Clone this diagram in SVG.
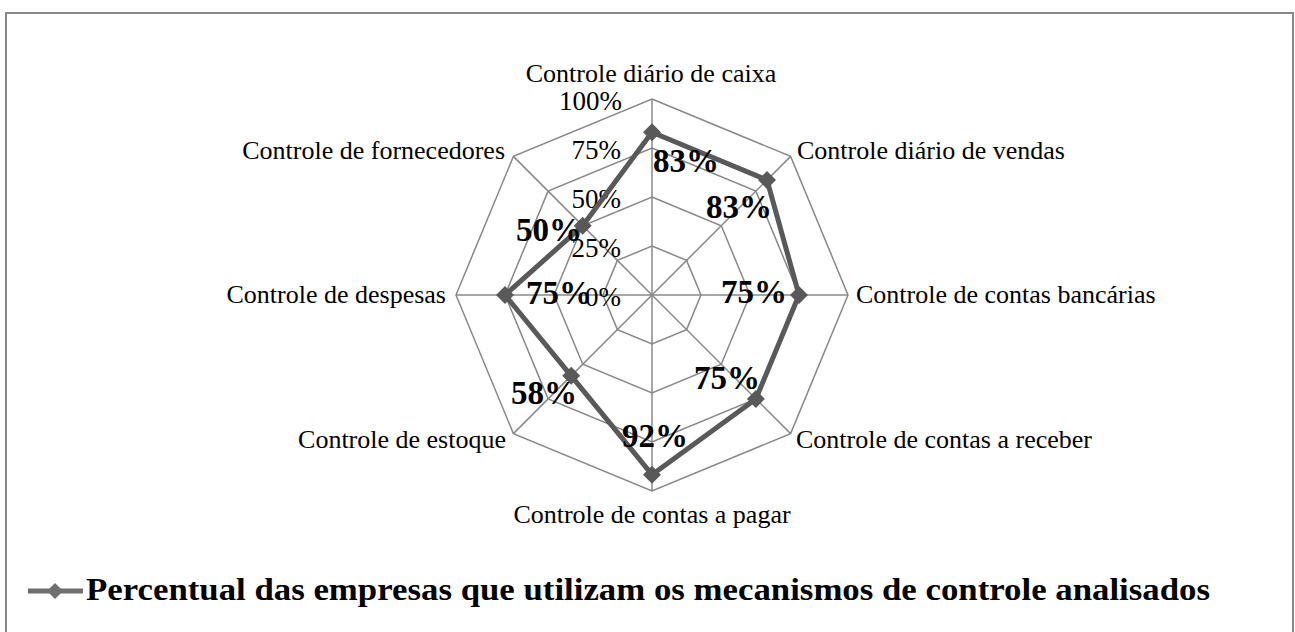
<svg xmlns="http://www.w3.org/2000/svg" width="1295" height="632" viewBox="0 0 1295 632">
<style>
.grid{fill:none;stroke:#888888;stroke-width:1.5}
.axis{stroke:#888888;stroke-width:1.5}
.lbl{font-family:"Liberation Serif","Times New Roman",serif;font-size:26px;fill:#000}
.tick{font-family:"Liberation Serif","Times New Roman",serif;font-size:27px;fill:#000;text-anchor:end}
.val{font-family:"Liberation Serif","Times New Roman",serif;font-size:33px;font-weight:bold;fill:#000}
.series{fill:none;stroke:#595959;stroke-width:5;stroke-linejoin:round}
.leg{font-family:"Liberation Serif","Times New Roman",serif;font-size:31px;font-weight:bold;fill:#000}
</style>
<defs>
<path id="dia" d="M0,-9 L9,0 L0,9 L-9,0 Z" fill="#595959"/>
</defs>
<rect x="0" y="0" width="1295" height="632" fill="#ffffff"/>
<rect x="6" y="13" width="1287" height="640" fill="#ffffff" stroke="#888888" stroke-width="2"/>

<g id="grid">
<polygon class="grid" points="652,99 790.6,156.4 848,295 790.6,433.6 652,491 513.4,433.6 456,295 513.4,156.4"/>
<polygon class="grid" points="652,148 755.9,191.1 799,295 755.9,398.9 652,442 548.1,398.9 505,295 548.1,191.1"/>
<polygon class="grid" points="652,197 721.3,225.7 750,295 721.3,364.3 652,393 582.7,364.3 554,295 582.7,225.7"/>
<polygon class="grid" points="652,246 686.6,260.4 701,295 686.6,329.6 652,344 617.4,329.6 603,295 617.4,260.4"/>
<line class="axis" x1="652" y1="295" x2="652" y2="99"/>
<line class="axis" x1="652" y1="295" x2="790.6" y2="156.4"/>
<line class="axis" x1="652" y1="295" x2="848" y2="295"/>
<line class="axis" x1="652" y1="295" x2="790.6" y2="433.6"/>
<line class="axis" x1="652" y1="295" x2="652" y2="491"/>
<line class="axis" x1="652" y1="295" x2="513.4" y2="433.6"/>
<line class="axis" x1="652" y1="295" x2="456" y2="295"/>
<line class="axis" x1="652" y1="295" x2="513.4" y2="156.4"/>
</g>

<g id="ticks">
<text class="tick" x="622" y="110">100%</text>
<text class="tick" x="621" y="159">75%</text>
<text class="tick" x="621" y="208">50%</text>
<text class="tick" x="621" y="257">25%</text>
<text class="tick" x="621" y="306">0%</text>
</g>

<g id="connectors">
<polygon class="series" points="652,132.3 767,180 799,295 755.9,398.9 652,474.7 571.2,375.8 505,295 582.7,225.7"/>
</g>

<g id="node-caixa">
<text class="lbl" x="651" y="82" text-anchor="middle">Controle diário de caixa</text>
<use href="#dia" x="652" y="132.3"/>
<text class="val" x="653" y="172">83%</text>
</g>
<g id="node-vendas">
<text class="lbl" x="797" y="159">Controle diário de vendas</text>
<use href="#dia" x="767" y="180"/>
<text class="val" x="706" y="218">83%</text>
</g>
<g id="node-bancarias">
<text class="lbl" x="856" y="303">Controle de contas bancárias</text>
<use href="#dia" x="799" y="295"/>
<text class="val" x="721" y="303">75%</text>
</g>
<g id="node-receber">
<text class="lbl" x="796" y="448">Controle de contas a receber</text>
<use href="#dia" x="755.9" y="398.9"/>
<text class="val" x="694" y="389">75%</text>
</g>
<g id="node-pagar">
<text class="lbl" x="652" y="523" text-anchor="middle">Controle de contas a pagar</text>
<use href="#dia" x="652" y="474.7"/>
<text class="val" x="622" y="447">92%</text>
</g>
<g id="node-estoque">
<text class="lbl" x="506" y="448" text-anchor="end">Controle de estoque</text>
<use href="#dia" x="571.2" y="375.8"/>
<text class="val" x="511" y="404">58%</text>
</g>
<g id="node-despesas">
<text class="lbl" x="446" y="303" text-anchor="end">Controle de despesas</text>
<use href="#dia" x="505" y="295"/>
<text class="val" x="526" y="304">75%</text>
</g>
<g id="node-fornecedores">
<text class="lbl" x="505" y="159" text-anchor="end">Controle de fornecedores</text>
<use href="#dia" x="582.7" y="225.7"/>
<text class="val" x="516" y="241">50%</text>
</g>

<g id="legend">
<line x1="28" y1="591" x2="83" y2="591" stroke="#6f6f6f" stroke-width="5"/>
<path d="M55,583 L63,591 L55,599 L47,591 Z" fill="#6f6f6f"/>
<text class="leg" x="86" y="600" textLength="1124" lengthAdjust="spacingAndGlyphs">Percentual das empresas que utilizam os mecanismos de controle analisados</text>
</g>
</svg>
